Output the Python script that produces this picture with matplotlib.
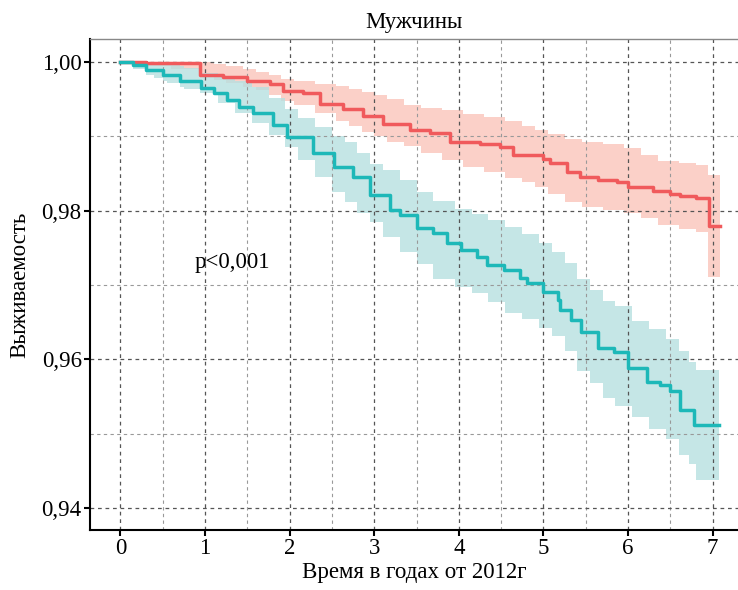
import matplotlib
matplotlib.use('Agg')
import matplotlib.pyplot as plt
import numpy as np

plt.rcParams['font.family'] = ['Liberation Serif', 'DejaVu Serif']

# красная кривая (время, выживаемость) и доверительный интервал
red_t = [0, 0.3, 0.94, 1.21, 1.5, 1.77, 1.92, 2.16, 2.36, 2.63, 2.87, 3.1, 3.42, 3.66, 3.9,
         4.25, 4.49, 4.64, 5.0, 5.08, 5.28, 5.43, 5.64, 5.87, 6.0, 6.3, 6.5, 6.62, 6.8, 6.96, 7.09]
red_s = [1.0, 0.9998, 0.9983, 0.998, 0.9975, 0.9971, 0.9961, 0.9958, 0.9944, 0.9937, 0.9928,
         0.9917, 0.9908, 0.9904, 0.9893, 0.989, 0.9886, 0.9875, 0.987, 0.9864, 0.9852, 0.9846,
         0.9841, 0.9839, 0.9832, 0.9827, 0.9823, 0.982, 0.9817, 0.9779, 0.9779]
red_ci_t = [0, 0.3, 0.6, 0.94, 1.0, 1.1, 1.25, 1.45, 1.6, 1.75, 1.9, 2.05, 2.3, 2.55, 2.7, 2.85,
            3.0, 3.15, 3.35, 3.55, 3.8, 4.05, 4.3, 4.55, 4.75, 4.9, 5.05, 5.25, 5.45, 5.7, 5.95,
            6.15, 6.35, 6.6, 6.8, 6.95, 7.09]
red_hi = [1.0, 1.0, 1.0, 1.0, 1.0, 0.9997, 0.9994, 0.9991, 0.9987, 0.9983, 0.9977, 0.9974,
          0.9971, 0.9968, 0.9964, 0.996, 0.9955, 0.995, 0.9942, 0.9938, 0.9935, 0.993, 0.9926,
          0.9921, 0.9914, 0.9908, 0.9903, 0.9897, 0.9893, 0.989, 0.9884, 0.9875, 0.9867, 0.9864,
          0.9861, 0.9848, 0.9848]
red_lo = [1.0, 0.9995, 0.999, 0.9982, 0.998, 0.9976, 0.9972, 0.9967, 0.9963, 0.9956, 0.9948,
          0.9942, 0.9932, 0.9921, 0.9914, 0.9906, 0.99, 0.9893, 0.9887, 0.9878, 0.9868, 0.9859,
          0.9852, 0.9844, 0.9838, 0.9832, 0.9822, 0.9812, 0.9805, 0.9801, 0.9797, 0.979, 0.9781,
          0.9775, 0.9772, 0.9711, 0.9711]

# бирюзовая кривая
teal_t = [0, 0.15, 0.3, 0.5, 0.7, 0.95, 1.1, 1.26, 1.4, 1.57, 1.8, 1.97, 2.28, 2.52, 2.75, 2.95,
          3.19, 3.31, 3.5, 3.7, 3.86, 4.02, 4.22, 4.33, 4.53, 4.72, 4.8, 5.0, 5.17, 5.2, 5.32,
          5.44, 5.64, 5.83, 6.0, 6.23, 6.38, 6.5, 6.62, 6.78, 7.07]
teal_s = [1.0, 0.9996, 0.9989, 0.9982, 0.9975, 0.9965, 0.9958, 0.9949, 0.994, 0.9931, 0.9915,
          0.9899, 0.9877, 0.9859, 0.9845, 0.9821, 0.9801, 0.9794, 0.9777, 0.977, 0.9756, 0.9747,
          0.9738, 0.9727, 0.972, 0.971, 0.9703, 0.9691, 0.968, 0.9667, 0.9653, 0.9637, 0.9616,
          0.961, 0.9589, 0.957, 0.9566, 0.9557, 0.9532, 0.9512, 0.9512]
teal_ci_t = [0, 0.15, 0.3, 0.4, 0.5, 0.55, 0.7, 0.75, 0.94, 1.15, 1.35, 1.55, 1.75, 1.95, 2.1,
             2.3, 2.5, 2.65, 2.8, 2.95, 3.1, 3.3, 3.5, 3.7, 3.95, 4.15, 4.35, 4.55, 4.75, 4.95,
             5.1, 5.25, 5.4, 5.55, 5.7, 5.85, 6.05, 6.25, 6.45, 6.6, 6.72, 6.8, 7.07]
teal_hi = [1.0, 1.0, 1.0, 1.0, 0.9999, 0.9997, 0.9994, 0.9992, 0.9985, 0.998, 0.9974, 0.9967,
           0.9952, 0.9937, 0.9925, 0.9912, 0.99, 0.9892, 0.9878, 0.9863, 0.9855, 0.9842, 0.9825,
           0.9813, 0.9802, 0.9795, 0.9788, 0.9778, 0.9769, 0.9756, 0.9745, 0.973, 0.9708, 0.9693,
           0.9679, 0.9672, 0.9652, 0.9641, 0.9627, 0.9612, 0.9596, 0.9586, 0.9586]
teal_lo = [1.0, 0.9991, 0.9982, 0.9979, 0.9975, 0.9972, 0.9967, 0.9964, 0.9958, 0.9945, 0.9932,
           0.9918, 0.9902, 0.9886, 0.9868, 0.9845, 0.9825, 0.9812, 0.9797, 0.9785, 0.9765, 0.9745,
           0.9728, 0.9708, 0.9698, 0.969, 0.9677, 0.9662, 0.9655, 0.9643, 0.9632, 0.9612, 0.9585,
           0.9568, 0.9548, 0.9538, 0.9523, 0.9506, 0.9493, 0.9472, 0.946, 0.9438, 0.9438]

x_ticks = [0, 1, 2, 3, 4, 5, 6, 7]
y_ticks = [0.94, 0.96, 0.98, 1.00]
y_labels = ['0,94', '0,96', '0,98', '1,00']

fig = plt.figure(figsize=(7.38, 5.9), dpi=100)
ax = fig.add_axes([0.122, 0.102, 0.878, 0.832])

ax.fill_between(red_ci_t, red_lo, red_hi, step='post', color='#fbd0c8', lw=0, zorder=1)
ax.fill_between(teal_ci_t, teal_lo, teal_hi, step='post', color='#b7e0e0', alpha=0.8, lw=0, zorder=1.5)
ax.step(red_t, red_s, where='post', color='#f05a5c', lw=2.5, zorder=3)
ax.step(teal_t, teal_s, where='post', color='#1db8b8', lw=2.5, zorder=3)

ax.set_xlim(-0.36, 7.3)
ax.set_ylim(0.9371, 1.0031)
ax.set_xticks(x_ticks)
ax.set_xticks(np.arange(0.5, 7.5, 1), minor=True)
ax.set_yticks(y_ticks)
ax.set_yticklabels(y_labels)
ax.set_yticks([0.95, 0.97, 0.99], minor=True)

ax.grid(which='major', color='#555555', ls=(0, (3, 3)), lw=0.9, zorder=2)
ax.grid(which='minor', color='#999999', ls=(0, (3, 3)), lw=0.8, zorder=2)
ax.tick_params(which='minor', length=0)
ax.tick_params(which='major', length=4, width=1.5, direction='out', labelsize=16.5, pad=2)

ax.spines['right'].set_visible(False)
ax.spines['top'].set_color('#888888')
ax.spines['top'].set_linewidth(1.0)
for s in ['left', 'bottom']:
    ax.spines[s].set_linewidth(1.5)

ax.set_title('Мужчины', fontsize=16.5, pad=8)
ax.set_xlabel('Время в годах от 2012г', fontsize=16.5, labelpad=2)
ax.set_ylabel('Выживаемость', fontsize=16.5, labelpad=8)
ax.text(1.32, 0.9731, 'p<0,001', fontsize=16.5, ha='center', va='center')

fig.savefig('out.png', dpi=100)
